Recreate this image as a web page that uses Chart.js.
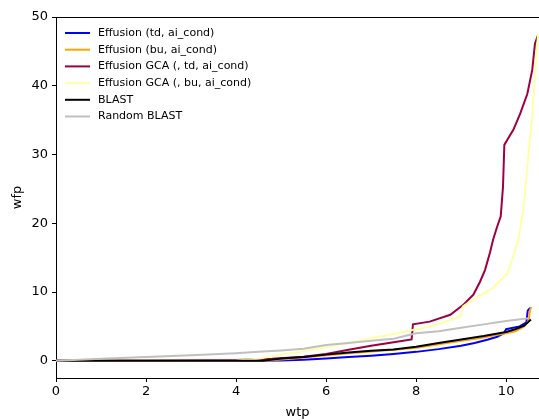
<!DOCTYPE html>
<html>
<head>
<meta charset="utf-8">
<script src="https://cdn.jsdelivr.net/npm/chart.js"></script>
<style>
  html, body { margin: 0; padding: 0; background: #fff; }
  #wrap { width: 539px; height: 420px; }
</style>
</head>
<body>
<div id="wrap"><canvas id="chart" width="539" height="420"></canvas></div>
<script>
const seriesLabels = ['Effusion (td, ai_cond)', 'Effusion (bu, ai_cond)', 'Effusion GCA (, td, ai_cond)',
  'Effusion GCA (, bu, ai_cond)', 'BLAST', 'Random BLAST'];
const seriesColors = ['#0000ff', '#ffa500', '#9e0142', '#ffffa8', '#000000', '#c0c0c0'];

const tdX = [0, 1, 2, 3, 4, 5, 5.5, 6, 6.5, 7, 7.5, 8, 8.5, 9, 9.3, 9.6, 9.8, 9.95, 10.0, 10.3, 10.45, 10.48, 10.52, 10.55];
const tdY = [0, 0, 0, 0, 0, 0.05, 0.15, 0.35, 0.55, 0.75, 1.0, 1.3, 1.7, 2.2, 2.6, 3.1, 3.5, 4.0, 4.6, 5.0, 5.6, 7.3, 7.6, 7.7];

const buX = [0, 4.6, 5, 5.5, 6, 6.5, 7, 7.5, 8, 8.5, 9, 9.5, 9.8, 10.0, 10.2, 10.4, 10.5, 10.53, 10.56];
const buY = [0, 0, 0.2, 0.45, 0.8, 1.1, 1.35, 1.6, 1.9, 2.4, 2.9, 3.4, 3.8, 4.0, 4.3, 5.0, 5.8, 7.4, 7.8];

const gcaTdX = [0, 2, 4, 4.8, 5.5, 6, 6.5, 7, 7.5, 7.9, 7.93, 8.3, 8.76, 9.04, 9.27, 9.42, 9.53, 9.64, 9.71, 9.8, 9.88, 9.93, 9.96, 10.04, 10.16, 10.31, 10.47, 10.58, 10.64, 10.71];
const gcaTdY = [0, 0, 0.1, 0.3, 0.6, 1.0, 1.6, 2.2, 2.7, 3.1, 5.3, 5.7, 6.7, 8.1, 9.6, 11.5, 13.2, 15.7, 17.6, 19.5, 21.0, 25.3, 31.4, 32.3, 33.6, 35.9, 38.8, 42.3, 46.1, 47.4];

const gcaBuX = [0, 2, 4, 4.5, 5, 5.5, 6, 6.5, 7, 7.5, 8, 8.31, 8.98, 9.04, 9.27, 9.71, 10.04, 10.27, 10.38, 10.47, 10.58, 10.64, 10.71];
const gcaBuY = [0, 0, 0.05, 0.3, 0.9, 1.4, 2.0, 2.6, 3.3, 3.9, 4.6, 5.0, 6.4, 7.9, 8.9, 10.6, 12.8, 17.6, 21.9, 28.2, 35.5, 41.7, 47.5];

const blastX = [0, 4.6, 5.0, 5.5, 6, 6.5, 7, 7.5, 8, 8.5, 9, 9.5, 10, 10.2, 10.4, 10.5, 10.55];
const blastY = [0, 0, 0.35, 0.55, 0.9, 1.2, 1.45, 1.65, 2.05, 2.6, 3.1, 3.6, 4.2, 4.6, 5.1, 5.7, 6.0];

const randX = [0, 1, 2, 3, 4, 4.5, 5, 5.5, 6, 6.5, 7, 7.5, 8, 8.5, 9, 9.5, 10, 10.5];
const randY = [0, 0.3, 0.55, 0.8, 1.1, 1.3, 1.5, 1.75, 2.3, 2.6, 2.9, 3.2, 4.0, 4.3, 4.8, 5.3, 5.8, 6.2];

const xTicks = [0, 2, 4, 6, 8, 10];
const yTicks = [0, 10, 20, 30, 40, 50];

const allX = [tdX, buX, gcaTdX, gcaBuX, blastX, randX];
const allY = [tdY, buY, gcaTdY, gcaBuY, blastY, randY];

function pairs(xs, ys) {
  return xs.map(function(x, i) { return { x: x, y: ys[i] }; });
}

const datasets = seriesLabels.map(function(label, i) {
  return {
    label: label,
    data: pairs(allX[i], allY[i]),
    borderColor: seriesColors[i],
    backgroundColor: seriesColors[i],
    borderWidth: 2,
    pointRadius: 0,
    showLine: true,
    fill: false,
    tension: 0,
    order: seriesLabels.length - i
  };
});

// matplotlib-like legend in upper left, no frame
const legendPlugin = {
  id: 'mplLegend',
  afterDraw: function(chart) {
    const ctx = chart.ctx;
    const area = chart.chartArea;
    ctx.save();
    ctx.font = '11px "DejaVu Sans"';
    ctx.textBaseline = 'middle';
    seriesLabels.forEach(function(label, i) {
      const y = area.top + 16 + i * 16.7;
      ctx.strokeStyle = seriesColors[i];
      ctx.lineWidth = 2;
      ctx.beginPath();
      ctx.moveTo(area.left + 9, y);
      ctx.lineTo(area.left + 34, y);
      ctx.stroke();
      ctx.fillStyle = '#000';
      ctx.fillText(label, area.left + 42, y);
    });
    // top spine
    ctx.strokeStyle = '#000';
    ctx.lineWidth = 1;
    ctx.beginPath();
    ctx.moveTo(area.left, area.top + 0.5);
    ctx.lineTo(area.right, area.top + 0.5);
    ctx.stroke();
    ctx.restore();
  }
};

const ctx = document.getElementById('chart').getContext('2d');
new Chart(ctx, {
  type: 'scatter',
  data: { datasets: datasets },
  plugins: [legendPlugin],
  options: {
    responsive: false,
    animation: false,
    layout: { padding: { top: 17, right: 0, left: 0, bottom: 0 } },
    plugins: {
      legend: { display: false },
      tooltip: { enabled: false }
    },
    scales: {
      x: {
        type: 'linear',
        min: 0,
        max: 10.73,
        afterBuildTicks: function(scale) {
          scale.ticks = xTicks.map(function(v) { return { value: v }; });
        },
        afterFit: function(scale) { scale.height = 42; },
        grid: { display: true, drawOnChartArea: false, drawTicks: true, tickLength: 4, tickColor: '#000' },
        border: { display: true, color: '#000', width: 1 },
        ticks: { color: '#000', font: { family: 'DejaVu Sans', size: 13 }, padding: 2, maxRotation: 0 },
        title: { display: true, text: 'wtp', color: '#000', font: { family: 'DejaVu Sans', size: 13 }, padding: { top: 0, bottom: 0 } }
      },
      y: {
        type: 'linear',
        min: -2.5,
        max: 50,
        afterBuildTicks: function(scale) {
          scale.ticks = yTicks.map(function(v) { return { value: v }; });
        },
        afterFit: function(scale) { scale.width = 56; },
        grid: { display: true, drawOnChartArea: false, drawTicks: true, tickLength: 4, tickColor: '#000' },
        border: { display: true, color: '#000', width: 1 },
        ticks: { color: '#000', font: { family: 'DejaVu Sans', size: 13 }, padding: 4 },
        title: { display: true, text: 'wfp', color: '#000', font: { family: 'DejaVu Sans', size: 13 }, padding: { top: 10, bottom: 4 } }
      }
    }
  }
});
</script>
</body>
</html>
